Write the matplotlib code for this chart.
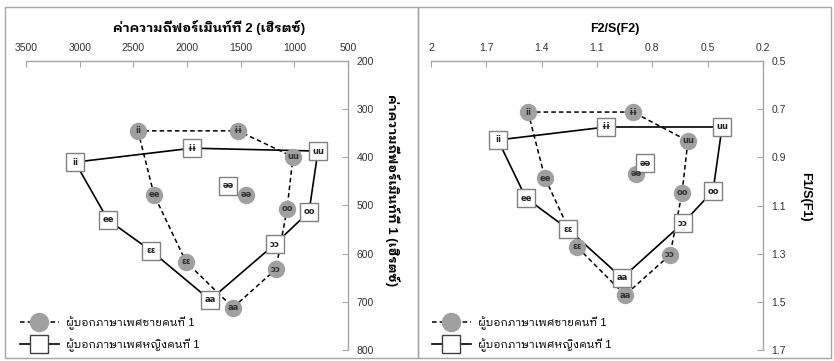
import matplotlib
matplotlib.use("Agg")
import matplotlib.pyplot as plt
from matplotlib.patches import Rectangle

plt.rcParams["font.family"] = ["Liberation Sans", "IBM Plex Sans Thai Looped", "DejaVu Sans"]

# vowel labels (same order for every series)
vowels = ["ii", "ɨɨ", "uu", "ee", "əə", "oo", "ɛɛ", "ɔɔ", "aa"]
# outline order: ii -> ee -> ɛɛ -> aa -> ɔɔ -> oo -> uu -> ɨɨ -> ii
outline = ["ii", "ee", "ɛɛ", "aa", "ɔɔ", "oo", "uu", "ɨɨ", "ii"]

# formant values in Hz
male_f2 = [2457, 1525, 1012, 2307, 1450, 1068, 2009, 1171, 1571]
male_f1 = [345, 345, 399, 478, 478, 507, 617, 632, 712]
female_f2 = [3043, 1953, 780, 2736, 1618, 863, 2335, 1180, 1786]
female_f1 = [410, 381, 387, 530, 459, 513, 594, 580, 696]

# normalised values
male_nf2 = [1.474, 0.905, 0.607, 1.382, 0.889, 0.639, 1.208, 0.704, 0.948]
male_nf1 = [0.712, 0.712, 0.832, 0.986, 0.969, 1.048, 1.272, 1.305, 1.472]
female_nf2 = [1.637, 1.051, 0.422, 1.485, 0.840, 0.471, 1.257, 0.634, 0.964]
female_nf1 = [0.828, 0.774, 0.774, 1.069, 0.924, 1.040, 1.198, 1.173, 1.401]

male_name = "ผู้บอกภาษาเพศชายคนที่ 1"
female_name = "ผู้บอกภาษาเพศหญิงคนที่ 1"

hz_xticks = [3500, 3000, 2500, 2000, 1500, 1000, 500]
hz_yticks = [200, 300, 400, 500, 600, 700, 800]
n_xticks = [2, 1.7, 1.4, 1.1, 0.8, 0.5, 0.2]
n_xlabels = ["2", "1.7", "1.4", "1.1", "0.8", "0.5", "0.2"]
n_yticks = [0.5, 0.7, 0.9, 1.1, 1.3, 1.5, 1.7]
n_ylabels = ["0.5", "0.7", "0.9", "1.1", "1.3", "1.5", "1.7"]

W, H = 834, 361
GRAY = "#a6a6a6"
DOT = "#a0a0a0"


def px(x0, y0, x1, y1):
    # pixel box (from top-left) -> figure fraction rect
    return [x0 / W, 1 - y1 / H, (x1 - x0) / W, (y1 - y0) / H]


def draw_panel(ax, mx, my, fx, fy):
    mpos = dict(zip(vowels, zip(mx, my)))
    fpos = dict(zip(vowels, zip(fx, fy)))
    ax.plot([mpos[v][0] for v in outline], [mpos[v][1] for v in outline],
            color="black", lw=1.1, ls=(0, (3, 2)), zorder=2)
    ax.plot([fpos[v][0] for v in outline], [fpos[v][1] for v in outline],
            color="black", lw=1.2, zorder=2)
    ax.plot(mx, my, ls="none", marker="o", ms=11.5, mfc=DOT, mec=DOT, zorder=3)
    ax.plot(fx, fy, ls="none", marker="s", ms=13, mfc="white", mec="#808080",
            mew=1, zorder=3)
    for v, x, y in zip(vowels, mx, my):
        ax.text(x, y, v, ha="center", va="center", fontsize=6, fontweight="bold",
                color="#303030", zorder=4, family=["DejaVu Sans"])
    for v, x, y in zip(vowels, fx, fy):
        ax.text(x, y, v, ha="center", va="center", fontsize=6, fontweight="bold",
                color="#202020", zorder=4, family=["DejaVu Sans"])

    # legend handles
    h1, = ax.plot([], [], color="black", lw=1.1, ls=(0, (3, 2)), marker="o",
                  ms=13, mfc=DOT, mec=DOT)
    h2, = ax.plot([], [], color="black", lw=1.2, marker="s", ms=13,
                  mfc="white", mec="#404040", mew=1)
    return h1, h2


def style(ax, xlim, ylim, xt, yt, xl, yl):
    ax.set_xlim(*xlim)
    ax.set_ylim(*ylim)
    ax.xaxis.tick_top()
    ax.yaxis.tick_right()
    ax.set_xticks(xt)
    ax.set_yticks(yt)
    ax.set_xticklabels(xl)
    ax.set_yticklabels(yl)
    for s in ["left", "bottom"]:
        ax.spines[s].set_visible(False)
    for s in ["top", "right"]:
        ax.spines[s].set_color(GRAY)
        ax.spines[s].set_linewidth(1)
    ax.tick_params(direction="in", length=4, color=GRAY, labelsize=7.5,
                   labelcolor="#333333", pad=6)
    ax.patch.set_alpha(0)


fig = plt.figure(figsize=(W / 100, H / 100), dpi=100)

# panel frames
fig.add_artist(Rectangle((5 / W, 1 - 358 / H), 413 / W, 351 / H,
                         transform=fig.transFigure, fill=False, ec=GRAY, lw=1))
fig.add_artist(Rectangle((418 / W, 1 - 358 / H), 413 / W, 351 / H,
                         transform=fig.transFigure, fill=False, ec=GRAY, lw=1))

ax1 = fig.add_axes(px(26, 61, 348, 350))
h1, h2 = draw_panel(ax1, male_f2, male_f1, female_f2, female_f1)
style(ax1, (3500, 500), (800, 200), hz_xticks, hz_yticks,
      [str(t) for t in hz_xticks], [str(t) for t in hz_yticks])

ax2 = fig.add_axes(px(431, 61, 763, 350))
g1, g2 = draw_panel(ax2, male_nf2, male_nf1, female_nf2, female_nf1)
style(ax2, (2, 0.2), (1.7, 0.5), n_xticks, n_yticks, n_xlabels, n_ylabels)

# titles
fig.text(209 / W, 1 - 28 / H, "ค่าความถี่ฟอร์เมินท์ที่ 2 (เฮิรตซ์)",
         ha="center", va="center", fontsize=9.5, fontweight="bold")
fig.text(615 / W, 1 - 29 / H, "F2/S(F2)", ha="center", va="center",
         fontsize=9, fontweight="bold")
fig.text(392 / W, 1 - 190 / H, "ค่าความถี่ฟอร์เมินท์ที่ 1 (เฮิรตซ์)",
         ha="center", va="center", fontsize=9.5, fontweight="bold", rotation=270)
fig.text(805 / W, 1 - 197 / H, "F1/S(F1)", ha="center", va="center",
         fontsize=9, fontweight="bold", rotation=270)

for ax, hs, x0 in [(ax1, (h1, h2), 20), (ax2, (g1, g2), 432)]:
    ax.legend(hs, [male_name, female_name], loc="lower left",
              bbox_to_anchor=(x0 / W, 1 - 352 / H), bbox_transform=fig.transFigure,
              frameon=False, fontsize=8, handlelength=3.5, handletextpad=0.6,
              labelspacing=0.75, borderpad=0, borderaxespad=0, numpoints=1)

fig.savefig("out.png", dpi=100)
